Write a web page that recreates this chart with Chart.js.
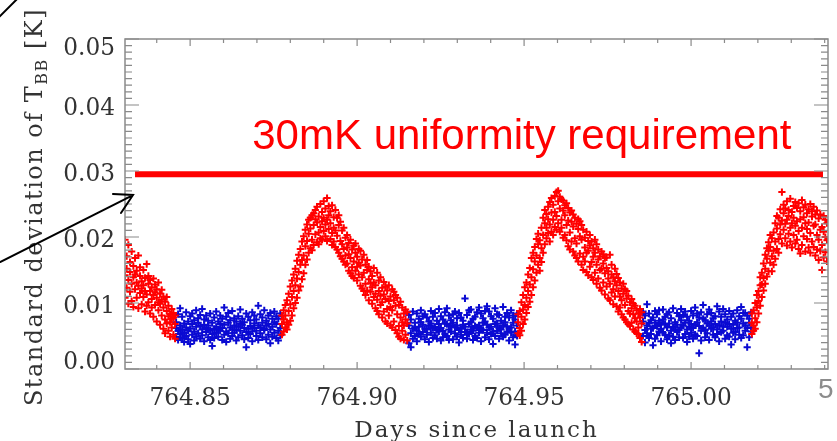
<!DOCTYPE html>
<html>
<head>
<meta charset="utf-8">
<script src="https://cdn.jsdelivr.net/npm/chart.js@4"></script>
<style>
  html, body { margin: 0; padding: 0; background: #ffffff; }
  #wrap { width: 837px; height: 441px; position: relative; }
</style>
</head>
<body>
<div id="wrap"><canvas id="c" width="837" height="441"></canvas></div>
<script>
// ---- Data (days since launch, standard deviation of T_BB in K) ----
// each row: [time, sample, sample, sample]
const redSegment1 = [
[764.8305,0.0196,0.0142,0.0108],[764.8310,0.0171,0.0123,0.0152],[764.8315,0.0188,0.0135,0.0099],
[764.8320,0.0162,0.0117,0.0147],[764.8325,0.0178,0.0129,0.0103],[764.8330,0.0156,0.0139,0.0094],
[764.8335,0.0168,0.0121,0.0143],[764.8340,0.0149,0.0108,0.0131],[764.8345,0.0172,0.0126,0.0092],
[764.8350,0.0141,0.0115,0.0154],[764.8355,0.0133,0.0098,0.0122],[764.8360,0.0150,0.0109,0.0127],
[764.8365,0.0138,0.0087,0.0118],[764.8370,0.0159,0.0113,0.0096],[764.8375,0.0129,0.0101,0.0141],
[764.8380,0.0118,0.0084,0.0135],[764.8385,0.0124,0.0093,0.0106],[764.8390,0.0137,0.0079,0.0112],
[764.8395,0.0116,0.0097,0.0128],[764.8400,0.0108,0.0072,0.0121],[764.8405,0.0131,0.0089,0.0101],
[764.8410,0.0099,0.0067,0.0114],[764.8415,0.0105,0.0081,0.0120],[764.8420,0.0093,0.0061,0.0110],
[764.8425,0.0102,0.0075,0.0054],[764.8430,0.0088,0.0069,0.0109],[764.8435,0.0096,0.0058,0.0080],
[764.8440,0.0083,0.0049,0.0071],[764.8445,0.0091,0.0063,0.0076],[764.8450,0.0078,0.0052,0.0085],
[764.8455,0.0068,0.0046,0.0081]
];
const blueSegment1 = [
[764.8458,0.0071,0.0049,0.0062],[764.8464,0.0058,0.0083,0.0044],[764.8470,0.0066,0.0092,0.0053],
[764.8476,0.0079,0.0047,0.0060],[764.8482,0.0055,0.0069,0.0041],[764.8488,0.0086,0.0063,0.0050],
[764.8494,0.0072,0.0045,0.0058],[764.8500,0.0061,0.0080,0.0038],[764.8506,0.0068,0.0052,0.0084],
[764.8512,0.0057,0.0074,0.0043],[764.8518,0.0089,0.0064,0.0049],[764.8524,0.0070,0.0054,0.0077],
[764.8530,0.0046,0.0065,0.0082],[764.8536,0.0060,0.0091,0.0051],[764.8542,0.0075,0.0042,0.0067],
[764.8548,0.0056,0.0081,0.0062],[764.8554,0.0066,0.0048,0.0073],[764.8560,0.0084,0.0059,0.0044],
[764.8566,0.0053,0.0070,0.0035],[764.8572,0.0078,0.0061,0.0047],[764.8578,0.0064,0.0087,0.0055],
[764.8584,0.0049,0.0072,0.0060],[764.8590,0.0081,0.0058,0.0068],[764.8596,0.0062,0.0044,0.0076],
[764.8602,0.0093,0.0067,0.0052],[764.8608,0.0057,0.0079,0.0041],[764.8614,0.0070,0.0054,0.0085],
[764.8620,0.0063,0.0046,0.0074],[764.8626,0.0088,0.0060,0.0050],[764.8632,0.0055,0.0077,0.0066],
[764.8638,0.0072,0.0043,0.0059],[764.8644,0.0080,0.0064,0.0048],[764.8650,0.0058,0.0090,0.0069],
[764.8656,0.0067,0.0051,0.0076],[764.8662,0.0045,0.0071,0.0062],[764.8668,0.0084,0.0056,0.0033],
[764.8674,0.0061,0.0079,0.0047],[764.8680,0.0074,0.0053,0.0065],[764.8686,0.0057,0.0086,0.0042],
[764.8692,0.0069,0.0062,0.0081],[764.8698,0.0050,0.0075,0.0058],[764.8704,0.0096,0.0066,0.0044],
[764.8710,0.0063,0.0083,0.0054],[764.8716,0.0078,0.0048,0.0070],[764.8722,0.0059,0.0089,0.0061],
[764.8728,0.0073,0.0045,0.0066],[764.8734,0.0052,0.0081,0.0068],[764.8740,0.0085,0.0060,0.0039],
[764.8746,0.0064,0.0076,0.0049],[764.8752,0.0071,0.0055,0.0087],[764.8758,0.0047,0.0068,0.0080],
[764.8764,0.0076,0.0058,0.0043],[764.8770,0.0062,0.0084,0.0051]
];
const redPeak1 = [
[764.8775,0.0052,0.0068,0.0081],[764.8780,0.0075,0.0057,0.0089],[764.8785,0.0063,0.0097,0.0081],
[764.8790,0.0071,0.0104,0.0060],[764.8795,0.0088,0.0114,0.0067],[764.8800,0.0098,0.0073,0.0125],
[764.8805,0.0109,0.0081,0.0134],[764.8810,0.0092,0.0143,0.0118],[764.8815,0.0127,0.0100,0.0152],
[764.8820,0.0137,0.0164,0.0108],[764.8825,0.0119,0.0147,0.0173],[764.8830,0.0158,0.0125,0.0182],
[764.8835,0.0165,0.0193,0.0136],[764.8840,0.0172,0.0145,0.0201],[764.8845,0.0186,0.0158,0.0211],
[764.8850,0.0194,0.0219,0.0166],[764.8855,0.0176,0.0205,0.0226],[764.8860,0.0213,0.0183,0.0229],
[764.8865,0.0196,0.0233,0.0180],[764.8870,0.0218,0.0188,0.0236],[764.8875,0.0204,0.0241,0.0227],
[764.8880,0.0192,0.0222,0.0246],[764.8885,0.0231,0.0207,0.0189],[764.8890,0.0215,0.0250,0.0198],
[764.8895,0.0238,0.0196,0.0224],[764.8900,0.0209,0.0254,0.0229],[764.8905,0.0243,0.0201,0.0219],
[764.8910,0.0226,0.0259,0.0194],[764.8915,0.0212,0.0247,0.0233],[764.8920,0.0239,0.0197,0.0221],
[764.8925,0.0206,0.0248,0.0188],[764.8930,0.0230,0.0214,0.0193],[764.8935,0.0241,0.0185,0.0210],
[764.8940,0.0202,0.0229,0.0181],[764.8945,0.0218,0.0176,0.0233],[764.8950,0.0194,0.0223,0.0171],
[764.8955,0.0210,0.0167,0.0189],[764.8960,0.0182,0.0214,0.0163],[764.8965,0.0199,0.0172,0.0158],
[764.8970,0.0160,0.0203,0.0184],[764.8975,0.0191,0.0149,0.0174],[764.8980,0.0168,0.0196,0.0145],
[764.8985,0.0154,0.0181,0.0141],[764.8990,0.0187,0.0163,0.0138],[764.8995,0.0149,0.0176,0.0190],
[764.9000,0.0170,0.0134,0.0155],[764.9005,0.0143,0.0182,0.0161],[764.9010,0.0157,0.0126,0.0179],
[764.9015,0.0139,0.0166,0.0122],[764.9020,0.0173,0.0146,0.0118],[764.9025,0.0129,0.0158,0.0112],
[764.9030,0.0150,0.0119,0.0165],[764.9035,0.0136,0.0104,0.0155],[764.9040,0.0117,0.0148,0.0130],
[764.9045,0.0141,0.0099,0.0124],[764.9050,0.0109,0.0153,0.0131],[764.9055,0.0127,0.0092,0.0114],
[764.9060,0.0146,0.0105,0.0088],[764.9065,0.0118,0.0083,0.0134],[764.9070,0.0097,0.0139,0.0111],
[764.9075,0.0123,0.0078,0.0101],[764.9080,0.0087,0.0132,0.0113],[764.9085,0.0106,0.0072,0.0125],
[764.9090,0.0119,0.0091,0.0069],[764.9095,0.0081,0.0127,0.0103],[764.9100,0.0110,0.0066,0.0094],
[764.9105,0.0089,0.0121,0.0063],[764.9110,0.0072,0.0104,0.0117],[764.9115,0.0096,0.0059,0.0112],
[764.9120,0.0083,0.0108,0.0054],[764.9125,0.0065,0.0097,0.0049],[764.9130,0.0078,0.0046,0.0102],
[764.9135,0.0058,0.0093,0.0071],[764.9140,0.0084,0.0044,0.0066],[764.9145,0.0052,0.0075,0.0090],
[764.9150,0.0069,0.0043,0.0086]
];
const blueSegment2 = [
[764.9155,0.0066,0.0039,0.0082],[764.9161,0.0054,0.0075,0.0033],[764.9167,0.0087,0.0061,0.0046],
[764.9173,0.0070,0.0050,0.0063],[764.9179,0.0058,0.0084,0.0042],[764.9185,0.0076,0.0064,0.0053],
[764.9191,0.0049,0.0071,0.0089],[764.9197,0.0067,0.0056,0.0080],[764.9203,0.0083,0.0045,0.0061],
[764.9209,0.0060,0.0078,0.0052],[764.9215,0.0072,0.0041,0.0066],[764.9221,0.0055,0.0088,0.0069],
[764.9227,0.0079,0.0062,0.0047],[764.9233,0.0064,0.0051,0.0085],[764.9239,0.0046,0.0073,0.0059],
[764.9245,0.0091,0.0057,0.0068],[764.9251,0.0062,0.0080,0.0043],[764.9257,0.0075,0.0048,0.0058],
[764.9263,0.0053,0.0069,0.0086],[764.9269,0.0068,0.0092,0.0050],[764.9275,0.0081,0.0060,0.0044],
[764.9281,0.0057,0.0074,0.0065],[764.9287,0.0070,0.0045,0.0083],[764.9293,0.0063,0.0087,0.0054],
[764.9299,0.0049,0.0066,0.0077],[764.9305,0.0085,0.0059,0.0040],[764.9311,0.0061,0.0078,0.0052],
[764.9317,0.0073,0.0047,0.0067],[764.9323,0.0107,0.0064,0.0056],[764.9329,0.0056,0.0082,0.0046],
[764.9335,0.0068,0.0053,0.0089],[764.9341,0.0090,0.0071,0.0060],[764.9347,0.0058,0.0044,0.0076],
[764.9353,0.0079,0.0065,0.0050],[764.9359,0.0047,0.0086,0.0063],[764.9365,0.0066,0.0055,0.0093],
[764.9371,0.0084,0.0061,0.0042],[764.9377,0.0059,0.0077,0.0070],[764.9383,0.0072,0.0048,0.0088],
[764.9389,0.0055,0.0067,0.0095],[764.9395,0.0087,0.0063,0.0045],[764.9401,0.0064,0.0080,0.0053],
[764.9407,0.0076,0.0057,0.0038],[764.9413,0.0050,0.0092,0.0068],[764.9419,0.0069,0.0058,0.0083],
[764.9425,0.0082,0.0046,0.0062],[764.9431,0.0060,0.0073,0.0054],[764.9437,0.0094,0.0066,0.0049],
[764.9443,0.0071,0.0052,0.0079],[764.9449,0.0057,0.0085,0.0064],[764.9455,0.0078,0.0061,0.0043],
[764.9461,0.0063,0.0089,0.0055],[764.9467,0.0048,0.0070,0.0081],[764.9473,0.0075,0.0057,0.0037],
[764.9479,0.0066,0.0084,0.0050]
];
const redPeak2 = [
[764.9482,0.0054,0.0071,0.0083],[764.9487,0.0062,0.0088,0.0051],[764.9492,0.0079,0.0058,0.0101],
[764.9497,0.0068,0.0112,0.0090],[764.9502,0.0097,0.0075,0.0124],[764.9507,0.0085,0.0131,0.0108],
[764.9512,0.0118,0.0094,0.0143],[764.9517,0.0128,0.0153,0.0102],[764.9522,0.0139,0.0112,0.0168],
[764.9527,0.0151,0.0176,0.0124],[764.9532,0.0134,0.0163,0.0185],[764.9537,0.0172,0.0146,0.0197],
[764.9542,0.0158,0.0189,0.0205],[764.9547,0.0195,0.0168,0.0149],[764.9552,0.0183,0.0214,0.0162],
[764.9557,0.0203,0.0176,0.0229],[764.9562,0.0221,0.0189,0.0241],[764.9567,0.0198,0.0235,0.0214],
[764.9572,0.0246,0.0206,0.0227],[764.9577,0.0219,0.0253,0.0193],[764.9582,0.0237,0.0208,0.0259],
[764.9587,0.0249,0.0226,0.0203],[764.9592,0.0215,0.0262,0.0238],[764.9597,0.0232,0.0268,0.0211],
[764.9602,0.0254,0.0221,0.0270],[764.9607,0.0243,0.0208,0.0261],[764.9612,0.0226,0.0257,0.0214],
[764.9617,0.0199,0.0240,0.0255],[764.9622,0.0233,0.0203,0.0248],[764.9627,0.0218,0.0251,0.0195],
[764.9632,0.0244,0.0186,0.0225],[764.9637,0.0207,0.0237,0.0181],[764.9642,0.0223,0.0193,0.0240],
[764.9647,0.0178,0.0216,0.0234],[764.9652,0.0229,0.0198,0.0172],[764.9657,0.0190,0.0220,0.0168],
[764.9662,0.0212,0.0163,0.0227],[764.9667,0.0175,0.0201,0.0224],[764.9672,0.0196,0.0158,0.0218],
[764.9677,0.0211,0.0170,0.0150],[764.9682,0.0163,0.0199,0.0184],[764.9687,0.0208,0.0147,0.0176],
[764.9692,0.0179,0.0142,0.0194],[764.9697,0.0155,0.0187,0.0203],[764.9702,0.0193,0.0162,0.0139],
[764.9707,0.0170,0.0135,0.0183],[764.9712,0.0146,0.0176,0.0196],[764.9717,0.0189,0.0158,0.0129],
[764.9722,0.0137,0.0166,0.0181],[764.9727,0.0171,0.0123,0.0150],[764.9732,0.0152,0.0178,0.0119],
[764.9737,0.0131,0.0160,0.0174],[764.9742,0.0168,0.0113,0.0145],[764.9747,0.0125,0.0153,0.0169],
[764.9752,0.0148,0.0107,0.0137],[764.9757,0.0173,0.0129,0.0104],[764.9762,0.0116,0.0143,0.0158],
[764.9767,0.0139,0.0098,0.0121],[764.9772,0.0152,0.0110,0.0133],[764.9777,0.0095,0.0127,0.0144],
[764.9782,0.0118,0.0138,0.0087],[764.9787,0.0131,0.0093,0.0110],[764.9792,0.0083,0.0122,0.0104],
[764.9797,0.0114,0.0078,0.0129],[764.9802,0.0097,0.0121,0.0075],[764.9807,0.0107,0.0071,0.0118],
[764.9812,0.0088,0.0111,0.0068],[764.9817,0.0065,0.0101,0.0084],[764.9822,0.0092,0.0070,0.0106],
[764.9827,0.0060,0.0083,0.0099],[764.9832,0.0077,0.0096,0.0057],[764.9837,0.0089,0.0054,0.0072],
[764.9842,0.0063,0.0084,0.0053],[764.9847,0.0078,0.0047,0.0091],[764.9852,0.0041,0.0069,0.0086]
];
const blueSegment3 = [
[764.9856,0.0072,0.0050,0.0087],[764.9862,0.0059,0.0081,0.0040],[764.9868,0.0066,0.0098,0.0054],
[764.9874,0.0084,0.0047,0.0069],[764.9880,0.0053,0.0074,0.0061],[764.9886,0.0078,0.0062,0.0036],
[764.9892,0.0046,0.0070,0.0088],[764.9898,0.0065,0.0083,0.0051],[764.9904,0.0089,0.0057,0.0073],
[764.9910,0.0061,0.0042,0.0067],[764.9916,0.0075,0.0090,0.0055],[764.9922,0.0052,0.0068,0.0079],
[764.9928,0.0083,0.0063,0.0045],[764.9934,0.0069,0.0051,0.0086],[764.9940,0.0058,0.0077,0.0039],
[764.9946,0.0092,0.0064,0.0049],[764.9952,0.0071,0.0044,0.0060],[764.9958,0.0056,0.0085,0.0067],
[764.9964,0.0080,0.0059,0.0048],[764.9970,0.0063,0.0074,0.0091],[764.9976,0.0047,0.0066,0.0082],
[764.9982,0.0087,0.0053,0.0070],[764.9988,0.0060,0.0079,0.0041],[764.9994,0.0073,0.0049,0.0064],
[765.0000,0.0055,0.0088,0.0068],[765.0006,0.0081,0.0062,0.0046],[765.0012,0.0067,0.0093,0.0052],
[765.0018,0.0050,0.0071,0.0084],[765.0024,0.0024,0.0065,0.0078],[765.0030,0.0086,0.0058,0.0043],
[765.0036,0.0062,0.0076,0.0097],[765.0042,0.0074,0.0048,0.0059],[765.0048,0.0054,0.0083,0.0069],
[765.0054,0.0090,0.0066,0.0044],[765.0060,0.0061,0.0072,0.0085],[765.0066,0.0077,0.0052,0.0063],
[765.0072,0.0048,0.0080,0.0068],[765.0078,0.0095,0.0060,0.0053],[765.0084,0.0066,0.0087,0.0042],
[765.0090,0.0072,0.0056,0.0079],[765.0096,0.0058,0.0091,0.0064],[765.0102,0.0083,0.0046,0.0070],
[765.0108,0.0064,0.0075,0.0051],[765.0114,0.0049,0.0068,0.0088],[765.0120,0.0079,0.0061,0.0037],
[765.0126,0.0067,0.0084,0.0055],[765.0132,0.0056,0.0045,0.0073],[765.0138,0.0089,0.0070,0.0062],
[765.0144,0.0063,0.0052,0.0080],[765.0150,0.0076,0.0094,0.0047],[765.0156,0.0051,0.0069,0.0085],
[765.0162,0.0085,0.0058,0.0066],[765.0168,0.0062,0.0081,0.0033],[765.0174,0.0070,0.0048,0.0076],
[765.0180,0.0057,0.0086,0.0063]
];
const redSegment4 = [
[765.0182,0.0053,0.0070,0.0084],[765.0187,0.0066,0.0089,0.0058],[765.0192,0.0077,0.0061,0.0100],
[765.0197,0.0093,0.0071,0.0112],[765.0202,0.0084,0.0118,0.0103],[765.0207,0.0127,0.0096,0.0139],
[765.0212,0.0109,0.0146,0.0128],[765.0217,0.0138,0.0119,0.0160],[765.0222,0.0152,0.0129,0.0173],
[765.0227,0.0167,0.0140,0.0183],[765.0232,0.0148,0.0179,0.0192],[765.0237,0.0185,0.0161,0.0203],
[765.0242,0.0171,0.0198,0.0148],[765.0247,0.0207,0.0179,0.0158],[765.0252,0.0193,0.0221,0.0167],
[765.0257,0.0213,0.0182,0.0232],[765.0262,0.0229,0.0197,0.0176],[765.0267,0.0204,0.0242,0.0219],
[765.0272,0.0268,0.0190,0.0225],[765.0277,0.0236,0.0211,0.0249],[765.0282,0.0198,0.0243,0.0220],
[765.0287,0.0226,0.0254,0.0187],[765.0292,0.0241,0.0205,0.0232],[765.0297,0.0214,0.0258,0.0193],
[765.0302,0.0238,0.0184,0.0221],[765.0307,0.0203,0.0247,0.0229],[765.0312,0.0253,0.0217,0.0190],
[765.0317,0.0224,0.0196,0.0244],[765.0322,0.0209,0.0251,0.0182],[765.0327,0.0239,0.0227,0.0175],
[765.0332,0.0188,0.0214,0.0256],[765.0337,0.0245,0.0201,0.0230],[765.0342,0.0221,0.0178,0.0249],
[765.0347,0.0197,0.0236,0.0212],[765.0352,0.0242,0.0184,0.0222],[765.0357,0.0206,0.0250,0.0176],
[765.0362,0.0231,0.0193,0.0239],[765.0367,0.0185,0.0246,0.0217],[765.0372,0.0219,0.0172,0.0234],
[765.0377,0.0240,0.0203,0.0181],[765.0382,0.0196,0.0228,0.0165],[765.0387,0.0234,0.0179,0.0211],
[765.0392,0.0150,0.0215,0.0188],[765.0397,0.0208,0.0232,0.0169],[765.0402,0.0177,0.0200,0.0226],
[765.0407,0.0221,0.0163,0.0195]
];

// requirement line (30 mK), as drawn
const requirementLevel = 0.0295;
const requirementSpan = [764.8335, 765.0395];
const requirementText = '30mK uniformity requirement';

// axes
const xRange = [764.8305, 765.0410];
const yRange = [0, 0.05];
const xTicks = [764.85, 764.90, 764.95, 765.00];
const xTickLabels = ['764.85', '764.90', '764.95', '765.00'];
const yTicks = [0, 0.01, 0.02, 0.03, 0.04, 0.05];
const yTickLabels = ['0.00', '0.01', '0.02', '0.03', '0.04', '0.05'];
const xTitle = 'Days since launch';
const yTitleParts = ['Standard deviation of T', 'BB', ' [K]'];

// ---- build datasets ----
const toPoints = rows => rows.flatMap(r => r.slice(1).map(v => ({ x: r[0], y: v })));
const redPoints = [redSegment1, redPeak1, redPeak2, redSegment4].flatMap(toPoints);
const bluePoints = [blueSegment1, blueSegment2, blueSegment3].flatMap(toPoints);

const RED = '#ff0000';
const BLUE = '#0a0ad2';
const SERIF = '"DejaVu Serif", serif';

const frame = {
  id: 'frame',
  afterDatasetsDraw(chart) {
    const { ctx, chartArea: a, scales: { x, y } } = chart;
    ctx.save();
    // box
    ctx.strokeStyle = '#8a8a8a';
    ctx.lineWidth = 1.5;
    ctx.strokeRect(a.left, a.top, a.right - a.left, a.bottom - a.top);
    // ticks
    ctx.lineWidth = 1.2;
    ctx.beginPath();
    for (let i = 0; i <= 50; i++) {
      const py = y.getPixelForValue(i / 1000);
      const len = i % 10 === 0 ? 14 : 7;
      ctx.moveTo(a.left, py); ctx.lineTo(a.left + len, py);
      ctx.moveTo(a.right, py); ctx.lineTo(a.right - len, py);
    }
    for (let i = 84; i <= 104; i++) {
      const v = 764 + i / 100;
      if (v < xRange[0] || v > xRange[1]) continue;
      const px = x.getPixelForValue(v);
      const len = i % 5 === 0 ? 7 : 4;
      ctx.moveTo(px, a.bottom); ctx.lineTo(px, a.bottom - len);
      ctx.moveTo(px, a.top); ctx.lineTo(px, a.top + len);
    }
    ctx.stroke();

    // tick labels (slightly condensed serif)
    const drawLabel = (txt, px, py, align, base) => {
      ctx.save();
      ctx.translate(px, py);
      ctx.scale(0.93, 1);
      ctx.textAlign = align;
      ctx.textBaseline = base;
      ctx.fillText(txt, 0, 0);
      ctx.restore();
    };
    ctx.fillStyle = '#333333';
    ctx.font = '25px ' + SERIF;
    yTicks.forEach((v, i) => {
      let py = y.getPixelForValue(v) + 3;
      py = Math.max(a.top + 9, Math.min(a.bottom - 7, py));
      drawLabel(yTickLabels[i], a.left - 10, py, 'right', 'middle');
    });
    xTicks.forEach((v, i) => {
      drawLabel(xTickLabels[i], x.getPixelForValue(v), a.bottom + 36, 'center', 'alphabetic');
    });

    // x title
    ctx.font = '23px ' + SERIF;
    ctx.textAlign = 'center';
    ctx.textBaseline = 'alphabetic';
    ctx.letterSpacing = '2px';
    ctx.fillText(xTitle, (a.left + a.right) / 2, a.bottom + 68);

    // y title (rotated, with subscript)
    ctx.save();
    ctx.translate(42, 207);
    ctx.rotate(-Math.PI / 2);
    ctx.textAlign = 'left';
    ctx.letterSpacing = '1.5px';
    const mainFont = '24px ' + SERIF, subFont = '16px ' + SERIF;
    ctx.font = mainFont; const w0 = ctx.measureText(yTitleParts[0]).width;
    ctx.font = subFont;  const w1 = ctx.measureText(yTitleParts[1]).width;
    ctx.font = mainFont; const w2 = ctx.measureText(yTitleParts[2]).width;
    let cx = -(w0 + w1 + w2) / 2;
    ctx.font = mainFont; ctx.fillText(yTitleParts[0], cx, 0); cx += w0;
    ctx.font = subFont;  ctx.fillText(yTitleParts[1], cx, 5); cx += w1;
    ctx.font = mainFont; ctx.fillText(yTitleParts[2], cx, 0);
    ctx.restore();
    ctx.letterSpacing = '0px';

    // requirement annotation text
    ctx.fillStyle = RED;
    ctx.font = '42px "Liberation Sans", Arial, sans-serif';
    ctx.textAlign = 'left';
    ctx.fillText(requirementText, x.getPixelForValue(764.8686), y.getPixelForValue(0.0333));

    // slide arrows (annotations, positioned in data coordinates)
    ctx.strokeStyle = '#000000';
    ctx.lineWidth = 2;
    ctx.lineCap = 'round';
    const P = (vx, vy) => [x.getPixelForValue(vx), y.getPixelForValue(vy)];
    const tail = P(764.7931, 0.0162), tip = P(764.8329, 0.02636);
    const arm1 = P(764.8269, 0.02652), arm2 = P(764.8293, 0.02364);
    ctx.beginPath();
    ctx.moveTo(tail[0], tail[1]); ctx.lineTo(tip[0], tip[1]);
    ctx.moveTo(arm1[0], arm1[1]); ctx.lineTo(tip[0], tip[1]); ctx.lineTo(arm2[0], arm2[1]);
    const t1 = P(764.7925, 0.05318), t2 = P(764.7982, 0.05606);
    ctx.moveTo(t1[0], t1[1]); ctx.lineTo(t2[0], t2[1]);
    ctx.stroke();

    // page number fragment at right edge
    ctx.fillStyle = '#8c8c8c';
    ctx.font = '28px "Liberation Sans", Arial, sans-serif';
    ctx.textAlign = 'left';
    ctx.fillText('5', a.right - 10, a.bottom + 29);
    ctx.restore();
  }
};

new Chart(document.getElementById('c'), {
  type: 'scatter',
  data: {
    datasets: [
      {
        label: 'requirement',
        type: 'line',
        data: [{ x: requirementSpan[0], y: requirementLevel }, { x: requirementSpan[1], y: requirementLevel }],
        borderColor: RED, borderWidth: 6, pointRadius: 0, fill: false, borderCapStyle: 'butt'
      },
      {
        label: 'red',
        data: redPoints,
        pointStyle: 'cross', pointRadius: 3.6, borderWidth: 2,
        borderColor: RED, backgroundColor: RED
      },
      {
        label: 'blue',
        data: bluePoints,
        pointStyle: 'cross', pointRadius: 3.6, borderWidth: 2,
        borderColor: BLUE, backgroundColor: BLUE
      }
    ]
  },
  options: {
    responsive: false,
    devicePixelRatio: 1,
    animation: false,
    events: [],
    layout: { padding: { left: 125, top: 39, right: 9, bottom: 72 } },
    scales: {
      x: { type: 'linear', min: xRange[0], max: xRange[1], display: false },
      y: { type: 'linear', min: yRange[0], max: yRange[1], display: false }
    },
    plugins: { legend: { display: false }, tooltip: { enabled: false } }
  },
  plugins: [frame]
});
</script>
</body>
</html>
